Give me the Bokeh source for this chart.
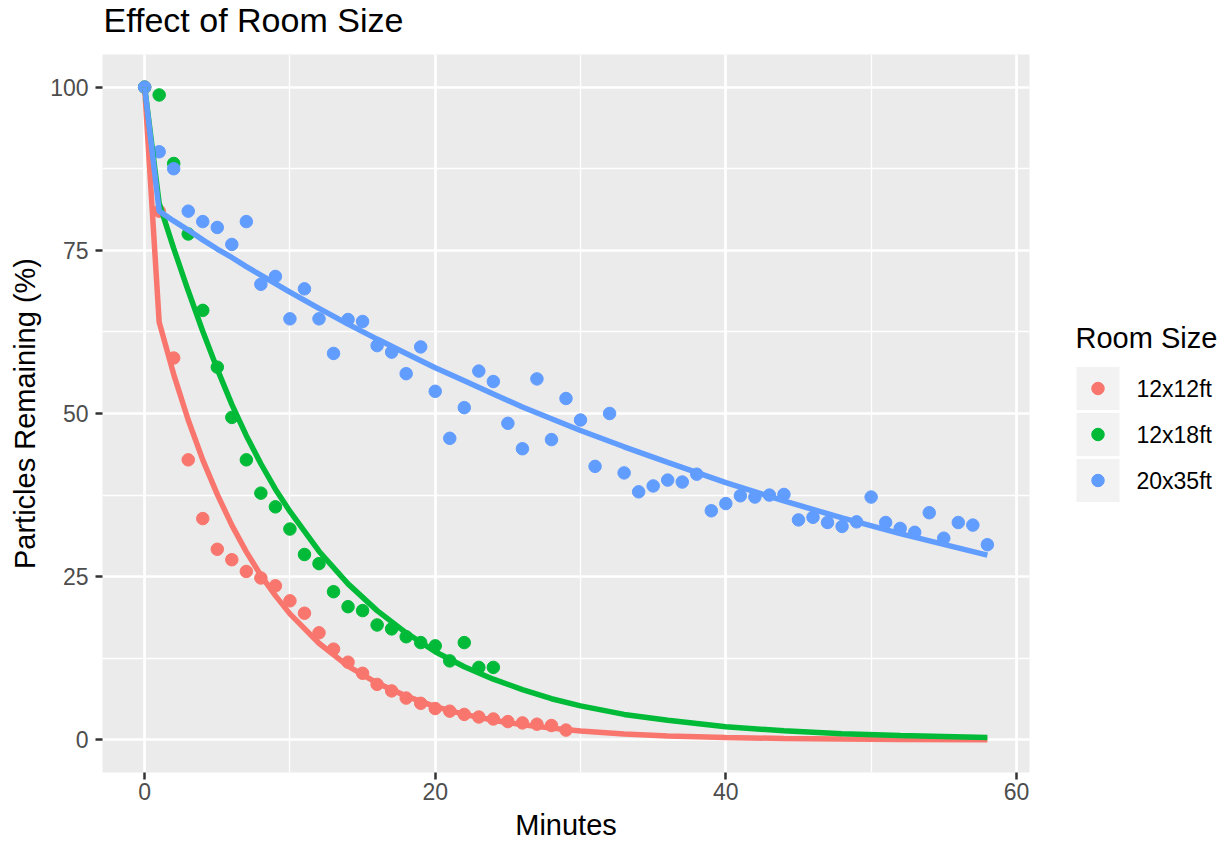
from bokeh.plotting import figure
from bokeh.models import Range1d, FixedTicker
from bokeh.layouts import row, column
from bokeh.embed import file_html
from bokeh.resources import INLINE
from bokeh.core.properties import value

# ---------------- data ----------------
title = "Effect of Room Size"
rooms = ["12x12ft", "12x18ft", "20x35ft"]
colors = ["#F8766D", "#00BA38", "#619CFF"]

red_pts = [100, 81, 58.5, 42.9, 33.9, 29.2, 27.6, 25.8, 24.8, 23.6, 21.3, 19.4, 16.4, 13.9,
           11.9, 10.2, 8.5, 7.5, 6.4, 5.6, 4.8, 4.4, 3.9, 3.5, 3.2, 2.8, 2.6, 2.4, 2.2, 1.5]
green_pts = [100, 98.8, 88.3, 77.5, 65.8, 57.1, 49.4, 42.9, 37.8, 35.7, 32.3, 28.4, 27.0,
             22.7, 20.4, 19.8, 17.6, 17.0, 15.8, 14.9, 14.4, 12.1, 14.9, 11.1, 11.1]
blue_pts = [100, 90.1, 87.5, 81.0, 79.4, 78.5, 75.9, 79.4, 69.8, 71.0, 64.5,
            69.1, 64.5, 59.2, 64.4, 64.1, 60.4, 59.4, 56.1, 60.2, 53.4,
            46.2, 50.9, 56.5, 54.9, 48.5, 44.6, 55.3, 46.0, 52.3, 49.0,
            41.9, 50.0, 40.9, 38.0, 38.9, 39.8, 39.5, 40.7, 35.1, 36.2,
            37.4, 37.2, 37.5, 37.6, 33.7, 34.1, 33.3, 32.7, 33.4, 37.2,
            33.3, 32.4, 31.8, 34.8, 30.9, 33.3, 32.9, 29.9]

fit_minutes = [0, 1, 2, 3, 4, 5, 6, 7, 8, 9, 10, 12, 14, 16, 18, 20, 22, 24, 26, 28, 30,
               33, 36, 40, 44, 48, 52, 58]
red_fit = [100, 64.0, 56.0, 49.0, 42.9, 37.6, 32.9, 28.8, 25.2, 22.1, 19.3, 14.8, 11.3,
           8.7, 6.7, 5.1, 3.9, 3.0, 2.3, 1.8, 1.35, 0.9, 0.6, 0.36, 0.21, 0.12, 0.07, 0.03]
green_fit = [100, 82.2, 75.3, 68.8, 62.6, 56.8, 51.4, 46.6, 42.3, 38.4, 35.0, 28.9, 23.9,
             19.8, 16.4, 13.5, 11.2, 9.3, 7.7, 6.3, 5.2, 3.9, 3.0, 2.0, 1.4, 0.95, 0.65, 0.37]
blue_fit = [100, 81.0, 79.5, 78.1, 76.6, 75.2, 73.9, 72.5, 71.2, 69.9, 68.6, 66.1, 63.7,
            61.4, 59.2, 57.0, 55.0, 53.0, 51.0, 49.2, 47.4, 44.9, 42.5, 39.4, 36.6, 34.0,
            31.6, 28.3]

x_ticks = [0, 20, 40, 60]
x_minor = [10, 30, 50]
y_ticks = [0, 25, 50, 75, 100]
y_minor = [12.5, 37.5, 62.5, 87.5]

FONT = "Liberation Sans"
TOP = 54
BOTTOM = 72

# ---------------- title strip ----------------
tf = figure(width=1226, height=TOP, x_range=Range1d(0, 1226), y_range=Range1d(TOP, 0),
            output_backend="svg", toolbar_location=None, x_axis_type=None, y_axis_type=None,
            min_border=0, outline_line_color=None, background_fill_color="white",
            border_fill_color="white")
tf.xgrid.visible = False
tf.ygrid.visible = False
tf.text(x=[103], y=[19], text=[title], text_font=value(FONT), text_font_size=value("34px"),
        text_baseline="alphabetic", text_align="left", text_color="black")

# ---------------- main plot ----------------
H = 844 - TOP
p = figure(width=1045, height=H, x_range=Range1d(-2.9, 60.9), y_range=Range1d(-5, 105),
           output_backend="svg", toolbar_location=None,
           background_fill_color="#EBEBEB", border_fill_color="white",
           outline_line_color=None,
           min_border_left=102, min_border_right=16, min_border_top=0,
           min_border_bottom=BOTTOM)

p.xaxis.ticker = FixedTicker(ticks=x_ticks, minor_ticks=x_minor)
p.yaxis.ticker = FixedTicker(ticks=y_ticks, minor_ticks=y_minor)
p.xaxis.axis_label = "Minutes"
p.yaxis.axis_label = "Particles Remaining (%)"

for ax in (p.xaxis, p.yaxis):
    ax.axis_line_color = None
    ax.major_tick_line_color = "#333333"
    ax.major_tick_line_width = 2.5
    ax.major_tick_out = 7
    ax.major_tick_in = 0
    ax.minor_tick_line_color = None
    ax.major_label_text_font = FONT
    ax.major_label_text_font_size = "23px"
    ax.major_label_text_color = "#4D4D4D"
    ax.axis_label_text_font = FONT
    ax.axis_label_text_font_size = "29px"
    ax.axis_label_text_font_style = "normal"
    ax.axis_label_text_color = "black"

p.xaxis.major_label_standoff = 3
p.xaxis.axis_label_standoff = 6
p.yaxis.major_label_standoff = 7
p.yaxis.axis_label_standoff = 6

for g in (p.xgrid, p.ygrid):
    g.grid_line_color = "white"
    g.grid_line_width = 2.7
    g.minor_grid_line_color = "white"
    g.minor_grid_line_width = 1.35

pts = [red_pts, green_pts, blue_pts]
fits = [red_fit, green_fit, blue_fit]

for vals, c in zip(pts, colors):
    p.scatter(list(range(len(vals))), vals, size=12.5, fill_color=c, line_color=c)

for vals, c in zip(fits, colors):
    p.line(fit_minutes, vals, line_color=c, line_width=5.5)

# ---------------- legend panel (frame aligned with the plot frame) ----------------
leg = figure(width=181, height=H, x_range=Range1d(0, 181),
             y_range=Range1d(844 - BOTTOM, TOP),
             output_backend="svg", toolbar_location=None, x_axis_type=None, y_axis_type=None,
             min_border_left=0, min_border_right=0, min_border_top=0,
             min_border_bottom=BOTTOM,
             outline_line_color=None, background_fill_color="white",
             border_fill_color="white")
leg.xgrid.visible = False
leg.ygrid.visible = False

key_y = [388 + 46 * i for i in range(len(rooms))]
leg.rect(x=[52.5] * len(rooms), y=key_y, width=43, height=43,
         fill_color="#F2F2F2", line_color=None)
leg.scatter(x=[52.5] * len(rooms), y=key_y, size=12.5, fill_color=colors, line_color=colors)
leg.text(x=[91] * len(rooms), y=key_y, text=rooms, text_font=value(FONT),
         text_font_size=value("23px"), text_baseline="middle", text_align="left",
         text_color="black")
leg.text(x=[30], y=[337], text=["Room Size"], text_font=value(FONT),
         text_font_size=value("29px"), text_baseline="middle", text_align="left",
         text_color="black")

layout = column(tf, row(p, leg))
open("out.html", "w").write(file_html(layout, INLINE))
